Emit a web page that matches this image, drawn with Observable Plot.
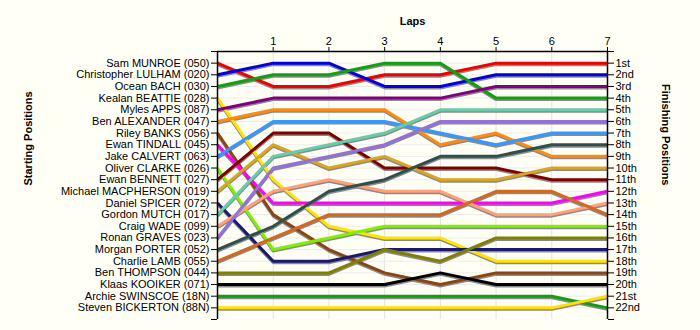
<!DOCTYPE html>
<html><head><meta charset="utf-8">
<script src="https://cdn.jsdelivr.net/npm/d3@7"></script>
<script src="https://cdn.jsdelivr.net/npm/@observablehq/plot@0.6"></script>
<style>
html,body{margin:0;padding:0;background:#FFFFF5;}
#chart svg{display:block;}
</style></head><body><div id="chart"></div>
<script>
const riders = [
  "Sam MUNROE (050)", "Christopher LULHAM (020)", "Ocean BACH (030)", "Kealan BEATTIE (028)",
  "Myles APPS (087)", "Ben ALEXANDER (047)", "Riley BANKS (056)", "Ewan TINDALL (045)",
  "Jake CALVERT (063)", "Oliver CLARKE (026)", "Ewan BENNETT (027)", "Michael MACPHERSON (019)",
  "Daniel SPICER (072)", "Gordon MUTCH (017)", "Craig WADE (099)", "Ronan GRAVES (023)",
  "Morgan PORTER (052)", "Charlie LAMB (055)", "Ben THOMPSON (044)", "Klaas KOOIKER (071)",
  "Archie SWINSCOE (18N)", "Steven BICKERTON (88N)"
];
const laps = [0, 1, 2, 3, 4, 5, 6, 7];
const lapTicks = [1, 2, 3, 4, 5, 6, 7];
const finishLabels = [
  "1st","2nd","3rd","4th","5th","6th","7th","8th","9th","10th","11th",
  "12th","13th","14th","15th","16th","17th","18th","19th","20th","21st","22nd"
];
// position of each rider at laps 0..7
const positions = [
  [1, 3, 3, 2, 2, 1, 1, 1],
  [2, 1, 1, 3, 3, 2, 2, 2],
  [3, 2, 2, 1, 1, 4, 4, 4],
  [4, 11, 15, 16, 16, 18, 18, 18],
  [5, 4, 4, 4, 4, 3, 3, 3],
  [6, 5, 5, 5, 8, 7, 9, 9],
  [7, 14, 17, 19, 20, 19, 19, 19],
  [8, 13, 13, 13, 13, 13, 13, 12],
  [9, 6, 6, 6, 7, 8, 7, 7],
  [10, 17, 16, 15, 15, 15, 15, 15],
  [11, 7, 7, 10, 10, 10, 11, 11],
  [12, 8, 10, 9, 11, 11, 10, 10],
  [13, 18, 18, 17, 17, 17, 17, 17],
  [14, 9, 8, 7, 5, 5, 5, 5],
  [15, 12, 11, 12, 12, 14, 14, 13],
  [16, 10, 9, 8, 6, 6, 6, 6],
  [17, 15, 12, 11, 9, 9, 8, 8],
  [18, 16, 14, 14, 14, 12, 12, 14],
  [19, 19, 19, 17, 18, 16, 16, 16],
  [20, 20, 20, 20, 19, 20, 20, 20],
  [21, 21, 21, 21, 21, 21, 21, 22],
  [22, 22, 22, 22, 22, 22, 22, 21]
];
const colors = [
  "#F00000", "#0000E0", "#12A012", "#FFE400", "#800080", "#FF8A10", "#8B4513", "#FF00FF",
  "#3399FF", "#80F000", "#800000", "#DAA520", "#191970", "#66CDAA", "#FFA07A", "#9370DB",
  "#2F4F4F", "#D2691E", "#808000", "#000000", "#129E12", "#FFE000"
];

const rows = [];
riders.forEach((r, i) => laps.forEach((l, j) => rows.push({rider: r, lap: l, pos: positions[i][j]})));
const rowTicks = d3.range(0, 24);

const chart = Plot.plot({
  width: 700, height: 330,
  marginLeft: 217, marginRight: 93, marginTop: 51, marginBottom: 11,
  style: {background: "transparent", fontFamily: "'Liberation Sans', Arial, sans-serif", fontSize: "11px", color: "#000"},
  x: {domain: [0, 7], axis: null},
  y: {domain: [0, 23], reverse: true, axis: null},
  color: {domain: riders, range: colors},
  marks: [
    Plot.ruleX(lapTicks.slice(0, 6), {stroke: "#e2e2e2", strokeWidth: 1}),
    Plot.ruleY(d3.range(1, 23), {stroke: "#ececec", strokeWidth: 1}),
    Plot.line(rows, {x: "lap", y: "pos", z: "rider", stroke: "#8a8a8a", strokeWidth: 3, dy: 1.5, strokeLinejoin: "miter", strokeLinecap: "butt"}),
    Plot.line(rows, {x: "lap", y: "pos", z: "rider", stroke: "rider", strokeWidth: 3, strokeLinejoin: "miter", strokeLinecap: "butt"}),
    Plot.ruleY([0], {stroke: "#000", strokeWidth: 1.5}),
    Plot.ruleX([0, 7], {stroke: "#000", strokeWidth: 1.5}),
    Plot.axisX(lapTicks, {anchor: "top", tickSize: 5, tickPadding: 2, label: null, fontSize: 11, stroke: "#000"}),
    Plot.axisY(rowTicks, {anchor: "left", tickSize: 6, tickPadding: 2, label: null, fontSize: 11, tickFormat: d => riders[d - 1] || ""}),
    Plot.axisY(rowTicks, {anchor: "right", tickSize: 6, tickPadding: 2, label: null, fontSize: 11, tickFormat: d => finishLabels[d - 1] || ""}),
    Plot.text(["Laps"], {frameAnchor: "top", dy: -34, fontWeight: "bold", fontSize: 11, fill: "#000"}),
    Plot.text(["Starting Positions"], {frameAnchor: "left", dx: -189, rotate: -90, fontWeight: "bold", fontSize: 11, fill: "#000"}),
    Plot.text(["Finishing Positions"], {frameAnchor: "right", dx: 58, rotate: 90, fontWeight: "bold", fontSize: 11, fill: "#000"})
  ]
});
document.getElementById("chart").appendChild(chart);
</script>
</body></html>
